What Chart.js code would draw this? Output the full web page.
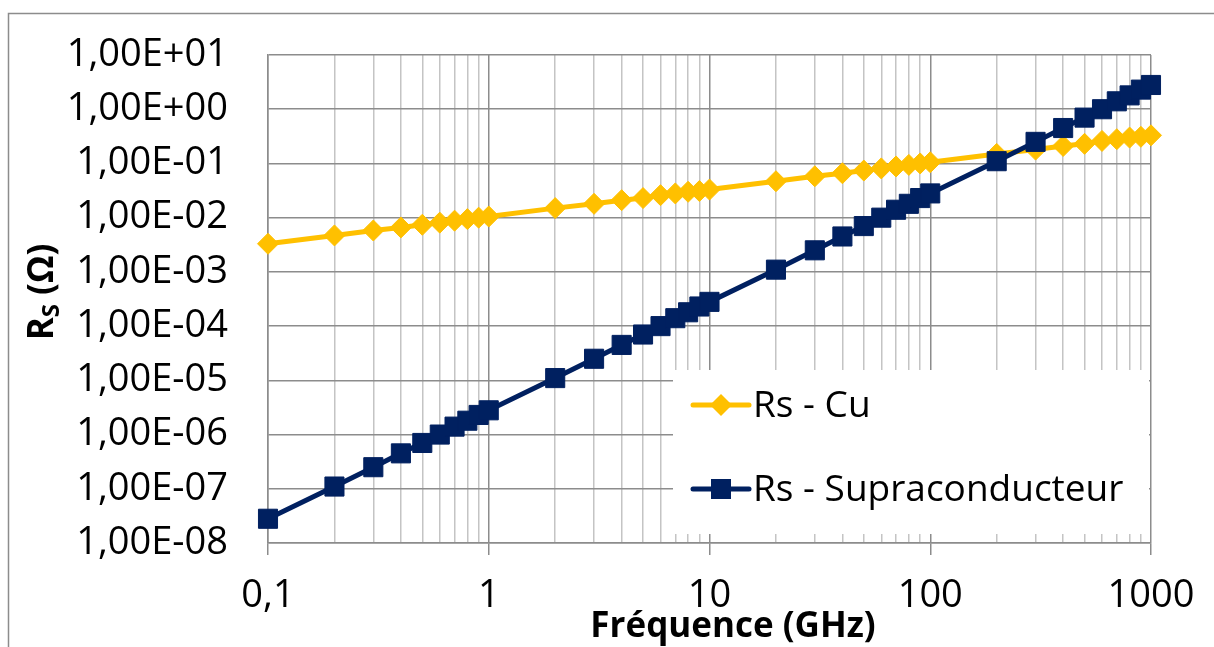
<!DOCTYPE html>
<html>
<head>
<meta charset="utf-8">
<script src="https://cdn.jsdelivr.net/npm/chart.js@4/dist/chart.umd.min.js"></script>
<style>
html,body{margin:0;padding:0;background:#fff;overflow:hidden;}
#wrap{position:absolute;left:0;top:0;width:1214px;height:647px;}
</style>
</head>
<body>
<div id="wrap"><canvas id="c" width="1214" height="647"></canvas></div>
<script>
// ---- data ----
const frequencies = [0.1,0.2,0.3,0.4,0.5,0.6,0.7,0.8,0.9,1,2,3,4,5,6,7,8,9,10,20,30,40,50,60,70,80,90,100,200,300,400,500,600,700,800,900,1000];
const rsCu = [3.3e-3,4.7e-3,5.8e-3,6.6e-3,7.4e-3,8.1e-3,8.8e-3,9.4e-3,1.0e-2,1.05e-2,1.5e-2,1.8e-2,2.1e-2,2.3e-2,2.6e-2,2.8e-2,3.0e-2,3.1e-2,3.3e-2,4.7e-2,5.8e-2,6.6e-2,7.4e-2,8.1e-2,8.8e-2,9.4e-2,1.0e-1,1.05e-1,1.5e-1,1.8e-1,2.1e-1,2.3e-1,2.6e-1,2.8e-1,3.0e-1,3.1e-1,3.3e-1];
const rsSupra = [2.8e-8,1.1e-7,2.5e-7,4.5e-7,7.0e-7,1.0e-6,1.4e-6,1.8e-6,2.3e-6,2.8e-6,1.1e-5,2.5e-5,4.5e-5,7.0e-5,1.0e-4,1.4e-4,1.8e-4,2.3e-4,2.8e-4,1.1e-3,2.5e-3,4.5e-3,7.0e-3,1.0e-2,1.4e-2,1.8e-2,2.3e-2,2.8e-2,1.1e-1,2.5e-1,4.5e-1,7.0e-1,1.0,1.4,1.8,2.3,2.8];
const seriesNames = ['Rs - Cu','Rs - Supraconducteur'];
const xMajorValues = [0.1,1,10,100,1000];
const xMajorLabels = ['0,1','1','10','100','1000'];
const xMinorValues = [0.2,0.3,0.4,0.5,0.6,0.7,0.8,0.9,2,3,4,5,6,7,8,9,20,30,40,50,60,70,80,90,200,300,400,500,600,700,800,900];
const yTickValues = [1e-8,1e-7,1e-6,1e-5,1e-4,1e-3,1e-2,1e-1,1,10];
const yTickLabels = ['1,00E-08','1,00E-07','1,00E-06','1,00E-05','1,00E-04','1,00E-03','1,00E-02','1,00E-01','1,00E+00','1,00E+01'];
const xTitle = 'Fréquence (GHz)';

const CU_COLOR = '#FFC000';
const SUPRA_COLOR = '#002060';
const MAJOR_GRID = '#8c8c8c';
const MINOR_GRID = '#c4c4c4';
const FONT = '"Open Sans", sans-serif';

function isMajorX(v){ return xMajorValues.some(m => Math.abs(m - v) / m < 1e-6); }

const decor = {
  id: 'decor',
  beforeDraw(chart){
    const ctx = chart.ctx;
    ctx.save();
    ctx.strokeStyle = '#8c8c8c';
    ctx.lineWidth = 1.5;
    ctx.beginPath();
    ctx.moveTo(8.5, 700);
    ctx.lineTo(8.5, 13.5);
    ctx.lineTo(1300, 13.5);
    ctx.stroke();
    ctx.restore();
  },
  afterDraw(chart){
    const ctx = chart.ctx;
    ctx.save();
    // legend box
    ctx.fillStyle = '#ffffff';
    ctx.fillRect(673, 370, 476, 164);
    const items = [
      {name: seriesNames[0], color: CU_COLOR, style: 'diamond', y: 405},
      {name: seriesNames[1], color: SUPRA_COLOR, style: 'square', y: 489}
    ];
    items.forEach(it => {
      ctx.strokeStyle = it.color;
      ctx.lineWidth = 5;
      ctx.lineCap = 'round';
      ctx.beginPath();
      ctx.moveTo(693, it.y);
      ctx.lineTo(749, it.y);
      ctx.stroke();
      ctx.fillStyle = it.color;
      ctx.beginPath();
      if (it.style === 'diamond') {
        ctx.moveTo(721, it.y - 11); ctx.lineTo(732, it.y); ctx.lineTo(721, it.y + 11); ctx.lineTo(710, it.y);
      } else {
        ctx.rect(711, it.y - 10, 20, 20);
      }
      ctx.closePath();
      ctx.fill();
      ctx.fillStyle = '#000';
      ctx.font = '37px ' + FONT;
      ctx.textBaseline = 'middle';
      ctx.textAlign = 'left';
      ctx.fillText(it.name, 753, it.y + 1);
    });
    // x title
    ctx.fillStyle = '#000';
    ctx.font = 'bold 35px ' + FONT;
    ctx.textAlign = 'center';
    ctx.textBaseline = 'middle';
    ctx.fillText(xTitle, 733, 627);
    // y title with subscript
    ctx.translate(43, 292);
    ctx.rotate(-Math.PI / 2);
    const f1 = 'bold 35px ' + FONT, f2 = 'bold 24px ' + FONT;
    ctx.font = f1; const wR = ctx.measureText('R').width; const wRest = ctx.measureText(' (Ω)').width;
    ctx.font = f2; const wS = ctx.measureText('S').width;
    const total = wR + wS + wRest;
    let x0 = -total / 2;
    ctx.textAlign = 'left';
    ctx.textBaseline = 'middle';
    ctx.font = f1; ctx.fillText('R', x0, 0);
    ctx.font = f2; ctx.fillText('S', x0 + wR, 9);
    ctx.font = f1; ctx.fillText(' (Ω)', x0 + wR + wS, 0);
    ctx.restore();
  }
};

new Chart(document.getElementById('c'), {
  type: 'line',
  data: {
    datasets: [
      {
        label: seriesNames[0],
        data: frequencies.map((f, i) => ({x: f, y: rsCu[i]})),
        borderColor: CU_COLOR, backgroundColor: CU_COLOR,
        borderWidth: 5, pointStyle: 'rectRot', pointRadius: 10.5, pointBorderWidth: 1,
        pointBackgroundColor: CU_COLOR, pointBorderColor: CU_COLOR, tension: 0, order: 2, clip: false
      },
      {
        label: seriesNames[1],
        data: frequencies.map((f, i) => ({x: f, y: rsSupra[i]})),
        borderColor: SUPRA_COLOR, backgroundColor: SUPRA_COLOR,
        borderWidth: 5, pointStyle: 'rect', pointRadius: 13.5, pointBorderWidth: 1,
        pointBackgroundColor: SUPRA_COLOR, pointBorderColor: SUPRA_COLOR, tension: 0, order: 1, clip: false
      }
    ]
  },
  options: {
    responsive: false,
    animation: false,
    devicePixelRatio: 1,
    layout: {autoPadding: false, padding: {left: 0, top: 55, right: 63, bottom: 0}},
    plugins: {legend: {display: false}, tooltip: {enabled: false}},
    scales: {
      x: {
        type: 'logarithmic', min: 0.1, max: 1000,
        afterFit(s){ s.height = 104; s.paddingLeft = 0; s.paddingRight = 0; },
        afterBuildTicks(s){
          s.ticks = xMajorValues.concat(xMinorValues).sort((a,b)=>a-b).map(v => ({value: v}));
        },
        grid: {
          color: c => isMajorX(c.tick.value) ? MAJOR_GRID : MINOR_GRID,
          tickColor: c => isMajorX(c.tick.value) ? MAJOR_GRID : 'rgba(0,0,0,0)',
          lineWidth: 1.5, tickLength: 12, drawTicks: true
        },
        border: {color: MAJOR_GRID, width: 1.5},
        ticks: {
          autoSkip: false, maxRotation: 0, padding: 18, color: '#000',
          font: {family: FONT, size: 38},
          callback(v){ const i = xMajorValues.findIndex(m => Math.abs(m - v) / m < 1e-6); return i >= 0 ? xMajorLabels[i] : ''; }
        }
      },
      y: {
        type: 'logarithmic', min: 1e-8, max: 10,
        afterFit(s){ s.width = 268; s.paddingTop = 0; s.paddingBottom = 0; },
        afterBuildTicks(s){ s.ticks = yTickValues.map(v => ({value: v})); },
        grid: {color: MAJOR_GRID, lineWidth: 1.5, drawTicks: false},
        border: {color: MAJOR_GRID, width: 1.5},
        ticks: {
          autoSkip: false, padding: 40, color: '#000',
          font: {family: FONT, size: 38},
          callback(v){ const i = yTickValues.findIndex(m => Math.abs(m - v) / m < 1e-6); return i >= 0 ? yTickLabels[i] : ''; }
        }
      }
    }
  },
  plugins: [decor]
});
</script>
</body>
</html>
